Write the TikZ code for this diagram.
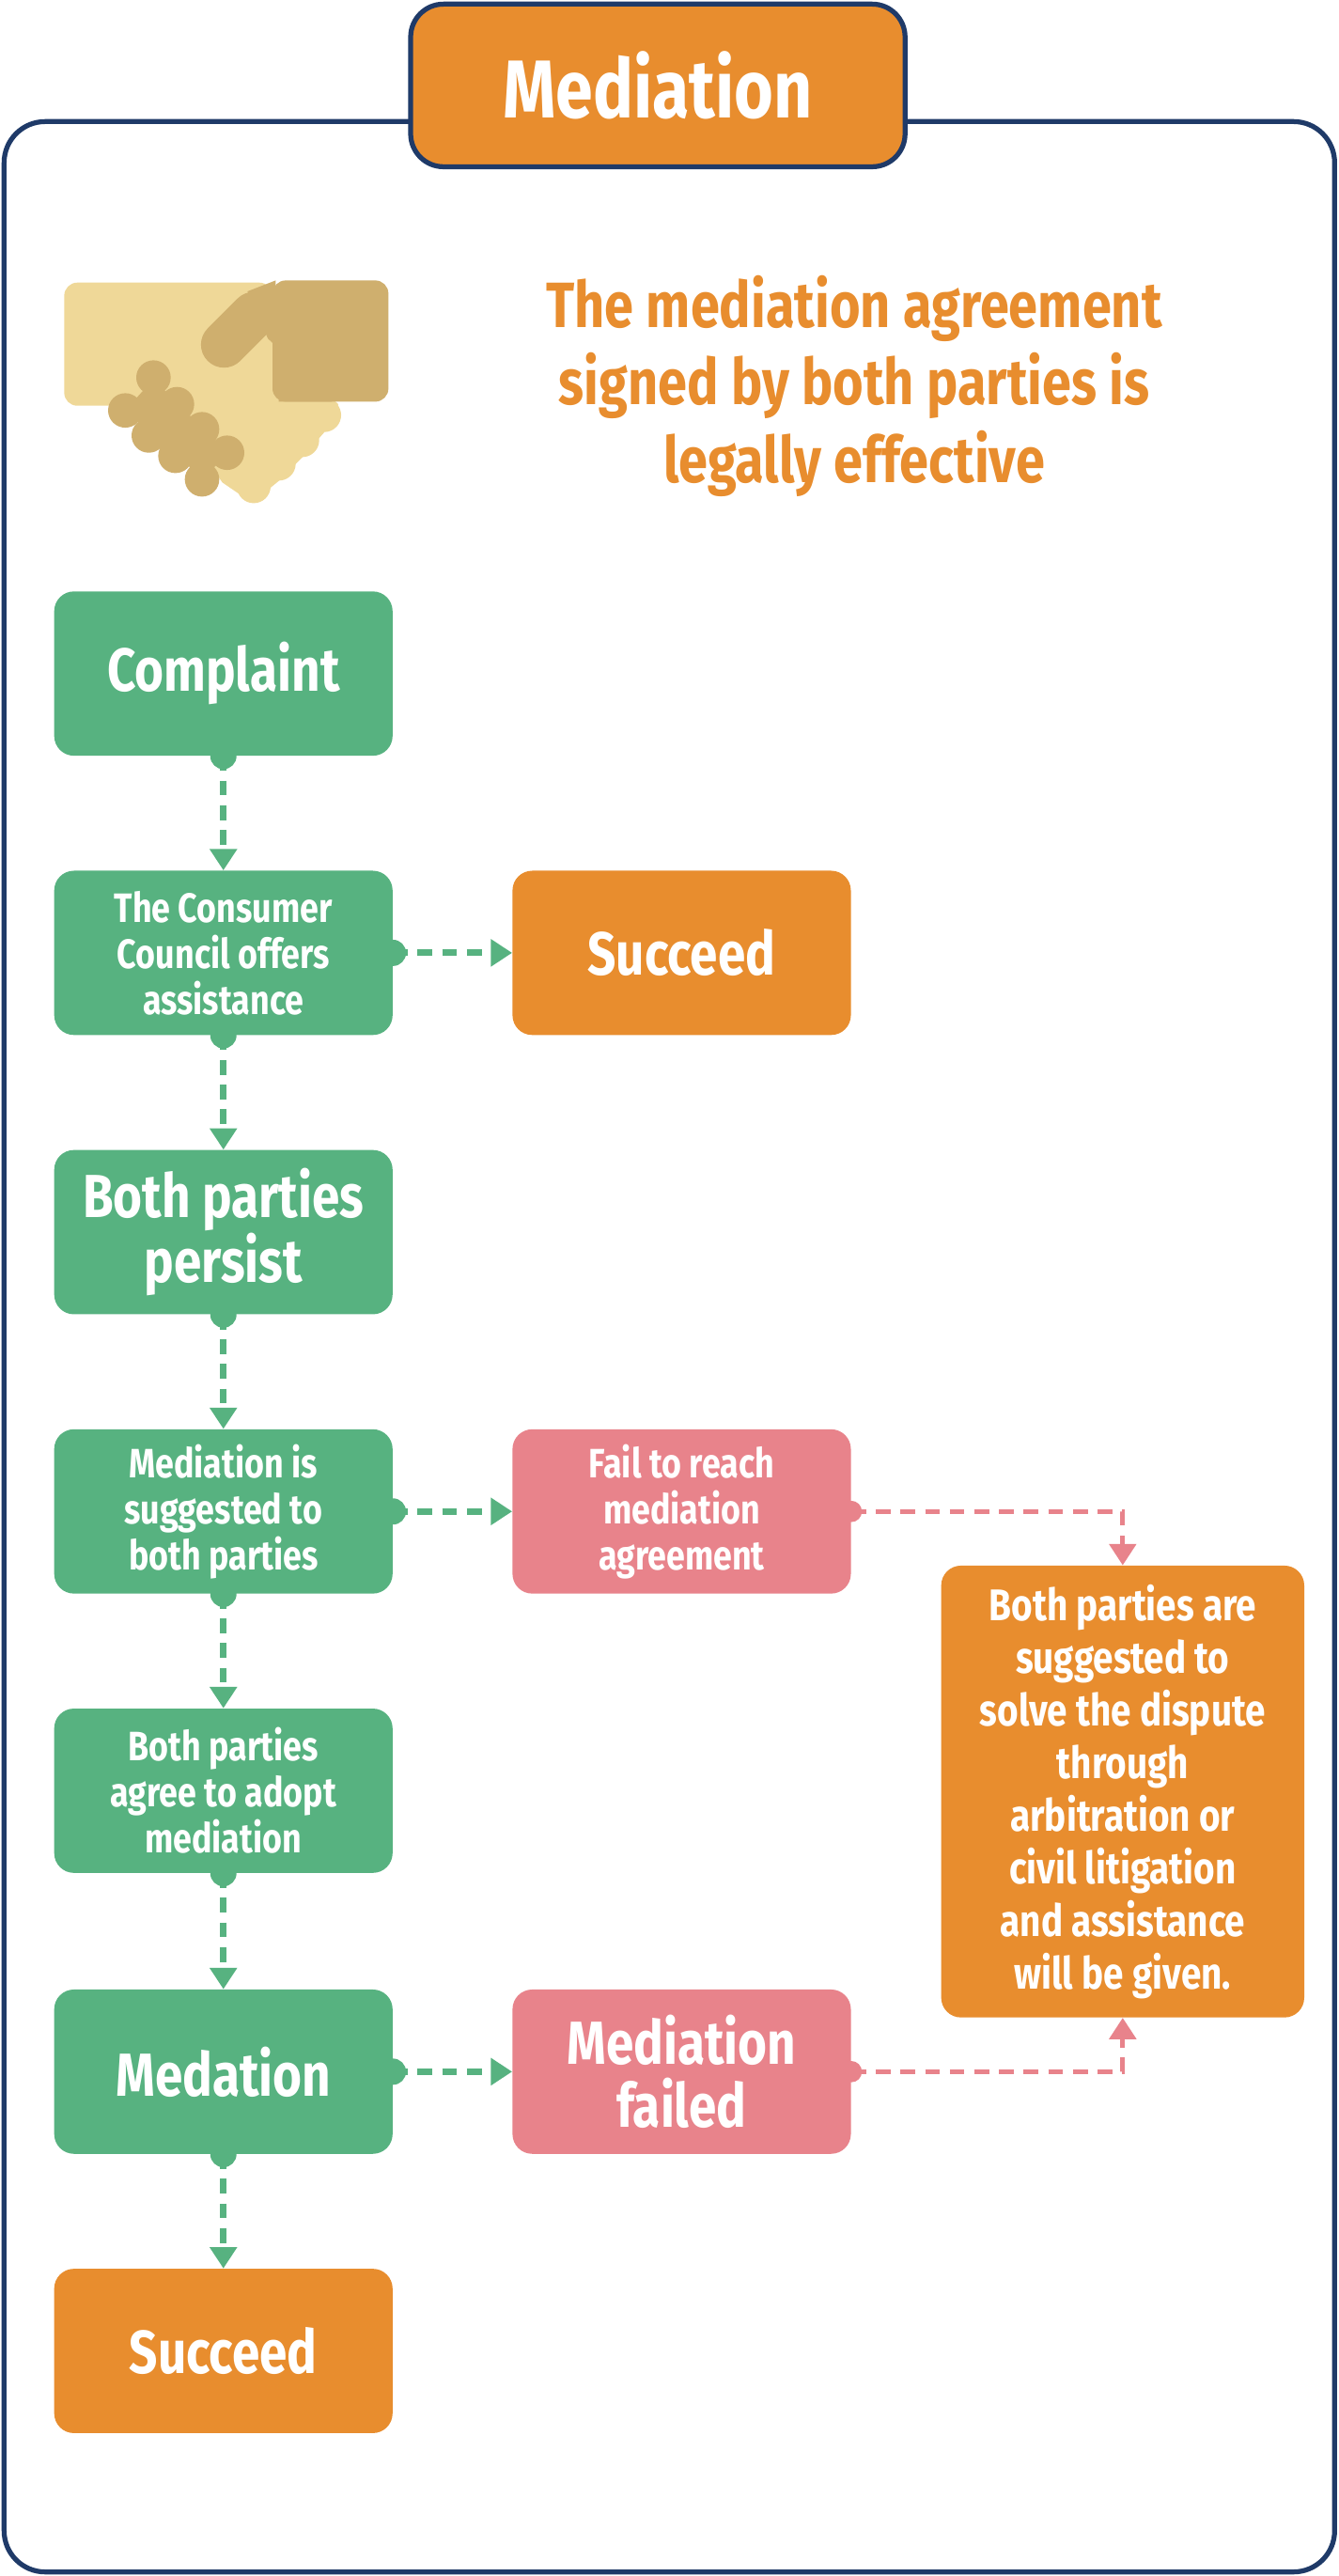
\documentclass[tikz,border=0pt]{standalone}
\usepackage{fontspec}
\setmainfont{Fira Sans}[FakeStretch=0.82]
\usetikzlibrary{arrows.meta,positioning}
\definecolor{navy}{HTML}{1F3A68}
\definecolor{mygreen}{HTML}{57B280}
\definecolor{mypink}{HTML}{E8838B}
\definecolor{myorange}{HTML}{E88D2E}
\definecolor{handlight}{HTML}{EFD898}
\definecolor{handdark}{HTML}{CFAF6E}

\begin{document}
\begin{tikzpicture}[
      x=1pt,y=-1pt,
      mybox/.style={
         rectangle,
         rounded corners=12pt,
         fill=mygreen,
         text=white,
         align=center,
         inner sep=0pt,
         minimum width=206pt,
         minimum height=100pt,
         font=\bfseries\fontsize{25}{28}\selectfont},
      bigtext/.style={font=\bfseries\fontsize{37}{38}\selectfont},
      mydot/.style={circle,fill=#1,inner sep=0pt,minimum size=16pt},
      myarrow/.style={draw=#1,line width=4pt,dash pattern=on 9pt off 6pt,
         -{Triangle[length=13pt,width=16pt,fill=#1]}}
      ]
      \useasboundingbox (0,0) rectangle (815,1568);
      % frame and title
      \draw[navy,line width=3pt,rounded corners=25pt] (2.5,74) rectangle (812.5,1565.5);
      \node[mybox,fill=myorange,draw=navy,line width=3pt,rounded corners=20pt,
            minimum width=301pt,minimum height=99pt,
            font=\bfseries\fontsize{50}{50}\selectfont] (title) at (400.5,52) {Mediation};
      % handshake
      \begin{scope}[shift={(28.6,160.2)},scale=0.1907]
        \fill[handlight,rounded corners=8pt] (55,62) rectangle (720,455);
        \fill[handlight] (300,330) -- (700,240) -- (930,450) -- (885,540) -- (815,620)
              -- (740,695) -- (655,765) -- (560,700) -- cycle;
        \foreach \cx/\cy in {885/485,815/565,740/640,660/712}
          \fill[handlight] (\cx,\cy) circle (54);
        \fill[handdark,rounded corners=8pt] (720,55) rectangle (1090,442);
        \fill[handdark] (640,90) -- (730,55) -- (740,442) -- (910,442) -- (705,240) -- cycle;
        \draw[handdark,line width=28pt,line cap=round] (565,260) -- (660,165);
        \fill[handdark] (340,370) -- (575,605) -- (500,690) -- (250,470) -- cycle;
        \foreach \cx/\cy in {340/365,415/450,495/530,575/605,250/470,325/550,410/615,495/690}
          \fill[handdark] (\cx,\cy) circle (55);
      \end{scope}
      \node[text=myorange,align=center,font=\bfseries\fontsize{39}{47}\selectfont]
            (motto) at (520,235) {The mediation agreement\\signed by both parties is\\legally effective};
      % left column
      \node[mybox,bigtext] (complaint) at (136,410) {Complaint};
      \node[mybox] (council) at (136,580) {The Consumer\\Council offers\\assistance};
      \node[mybox,bigtext] (persist) at (136,750) {Both parties\\persist};
      \node[mybox] (suggest) at (136,920) {Mediation is\\suggested to\\both parties};
      \node[mybox] (agree) at (136,1090) {Both parties\\agree to adopt\\mediation};
      \node[mybox,bigtext] (medation) at (136,1261) {Medation};
      \node[mybox,bigtext,fill=myorange] (success2) at (136,1431) {Succeed};
      % right column
      \node[mybox,bigtext,fill=myorange] (success1) at (415,580) {Succeed};
      \node[mybox,fill=mypink] (fail1) at (415,920) {Fail to reach\\mediation\\agreement};
      \node[mybox,bigtext,fill=mypink] (fail2) at (415,1261) {Mediation\\failed};
      \node[mybox,fill=myorange,minimum width=221pt,minimum height=275pt,
            font=\bfseries\fontsize{27}{32}\selectfont] (advice) at (683.5,1090.5)
            {Both parties are\\suggested to\\solve the dispute\\through\\arbitration or\\civil litigation\\and assistance\\will be given.};
      \coordinate (c1) at (advice.north |- fail1.east);
      \coordinate (c2) at (advice.south |- fail2.east);
      % connectors
      \foreach \i/\j in {complaint/council,council/persist,persist/suggest,
                         suggest/agree,agree/medation,medation/success2} {
        \draw[myarrow=mygreen] (\i.south) -- (\j.north);
        \node[mydot=mygreen] at (\i.south) {};
      }
      \foreach \i/\j in {council/success1,suggest/fail1,medation/fail2} {
        \draw[myarrow=mygreen] (\i.east) -- (\j.west);
        \node[mydot=mygreen] at (\i.east) {};
      }
      \draw[myarrow=mypink,line width=3pt] (fail1.east) -- (c1) -- (advice.north);
      \draw[myarrow=mypink,line width=3pt] (fail2.east) -- (c2) -- (advice.south);
      \node[mydot=mypink,minimum size=13pt] at (fail1.east) {};
      \node[mydot=mypink,minimum size=13pt] at (fail2.east) {};
\end{tikzpicture}
\end{document}
